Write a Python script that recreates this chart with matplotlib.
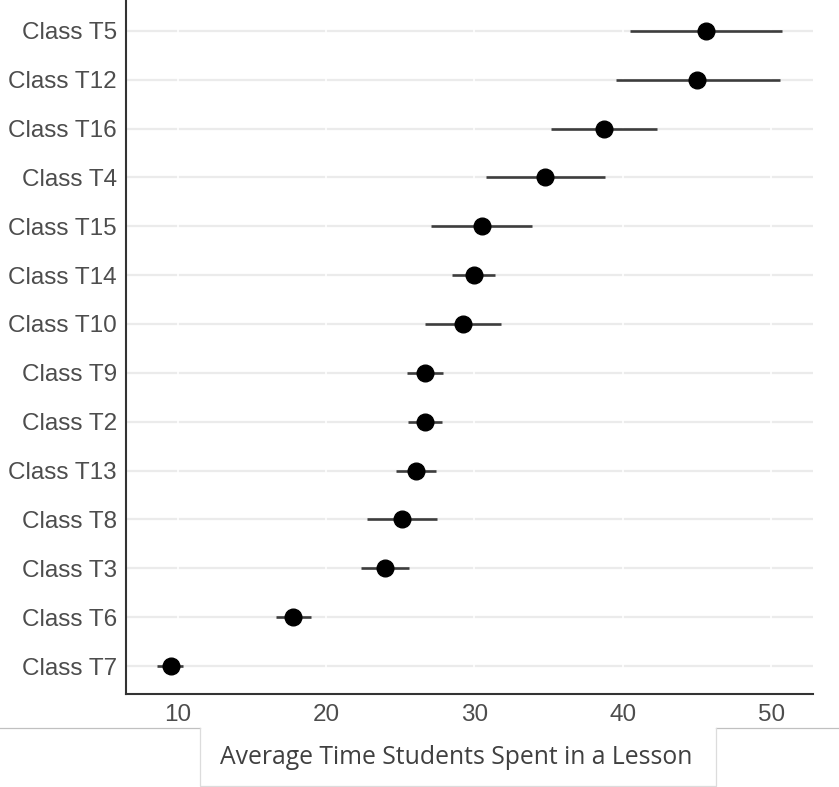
import matplotlib
matplotlib.use("Agg")
import matplotlib.pyplot as plt
from matplotlib.lines import Line2D

# classes listed bottom to top
classes = ["Class T7", "Class T6", "Class T3", "Class T8", "Class T13", "Class T2", "Class T9",
           "Class T10", "Class T14", "Class T15", "Class T4", "Class T16", "Class T12", "Class T5"]
mean_time = [9.54, 17.78, 23.97, 25.1, 26.06, 26.67, 26.67, 29.25, 29.99, 30.5, 34.75, 38.7, 45.0, 45.6]
lower = [8.62, 16.65, 22.36, 22.74, 24.71, 25.54, 25.47, 26.7, 28.5, 27.1, 30.8, 35.15, 39.5, 40.5]
upper = [10.39, 18.99, 25.59, 27.47, 27.4, 27.79, 27.9, 31.8, 31.4, 33.9, 38.8, 42.3, 50.55, 50.7]
x_ticks = [10, 20, 30, 40, 50]

W, H = 839, 787
fig = plt.figure(figsize=(W / 100, H / 100), dpi=100)
ax = fig.add_axes([126 / W, 1 - 694 / H, (813 - 126) / W, 694 / H])

ypos = list(range(len(classes)))

# light horizontal grid, broken by white vertical lines at the x ticks
for y in ypos:
    ax.axhline(y, color="#ebebeb", lw=1.6, zorder=0)
for x in x_ticks:
    ax.axvline(x, color="white", lw=1.2, zorder=0.5)

ax.hlines(ypos, lower, upper, color="#3d3d3d", lw=1.9, zorder=2)
ax.plot(mean_time, ypos, "o", color="black", ms=12, zorder=3)

ax.set_xlim(6.53, 52.8)
ax.set_ylim(-0.573, 13.63)
ax.set_yticks(ypos)
ax.set_yticklabels(classes)
ax.set_xticks(x_ticks)

for side in ["top", "right"]:
    ax.spines[side].set_visible(False)
for side in ["left", "bottom"]:
    ax.spines[side].set_color("#333333")
    ax.spines[side].set_linewidth(1.5)

ax.tick_params(axis="both", length=0, labelsize=17.5, labelcolor="#4d4d4d")
ax.tick_params(axis="y", pad=6.5)
ax.tick_params(axis="x", pad=7)
for lab in ax.get_xticklabels() + ax.get_yticklabels():
    lab.set_fontfamily("Liberation Sans")

# axis title sitting in a pasted box below the chart
def fx(px):
    return px / W

def fy(py):
    return 1 - py / H

fig.add_artist(Line2D([fx(0), fx(200)], [fy(728), fy(728)], color="#c0c0c0", lw=0.9))
fig.add_artist(Line2D([fx(716), fx(839)], [fy(728), fy(728)], color="#c0c0c0", lw=0.9))
fig.add_artist(Line2D([fx(200), fx(200), fx(716), fx(716)],
                      [fy(728), fy(786), fy(786), fy(728)], color="#dcdcdc", lw=0.9))
fig.text(fx(456.5), fy(764), "Average Time Students Spent in a Lesson", ha="center",
         va="baseline", fontsize=17.8, color="#404040", family="Open Sans")

fig.savefig("out.png", dpi=100)
